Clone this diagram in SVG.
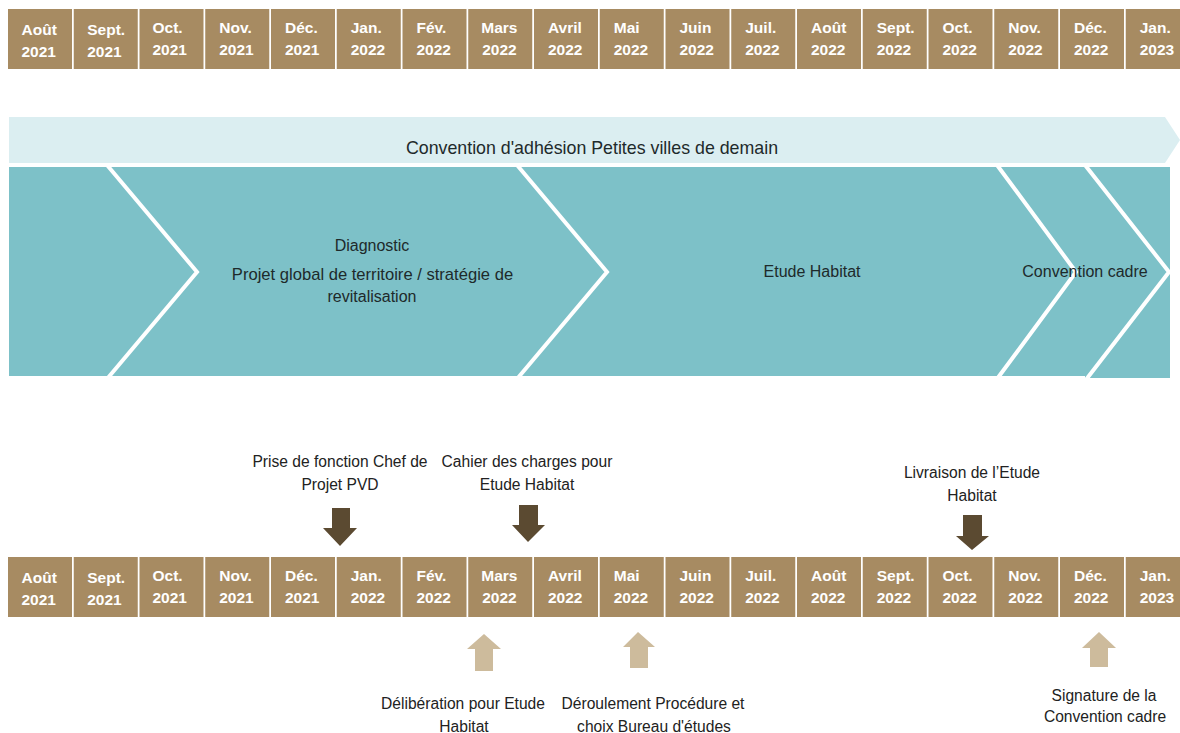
<svg xmlns="http://www.w3.org/2000/svg" width="1180" height="733" viewBox="0 0 1180 733">
<style>
.cell{fill:#A78B62}
.mt{font-family:"Liberation Sans",Arial,sans-serif;font-weight:bold;font-size:15.5px;fill:#ffffff}
.lbl{font-family:"Liberation Sans",Arial,sans-serif;font-size:15.6px;fill:#222222;text-anchor:middle}
.band{font-family:"Liberation Sans",Arial,sans-serif;font-size:16px;fill:#1e2a2b;text-anchor:middle}
.sep{fill:none;stroke:#ffffff;stroke-width:4}
.dark{fill:#5B4A31}
.light{fill:#CDBB9C}
</style>
<rect width="1180" height="733" fill="#ffffff"/>

<g id="top-timeline">
<g id="t0"><rect class="cell" x="8" y="9" width="64" height="60"/><text class="mt" x="21.5" y="35">Août</text><text class="mt" x="21.5" y="57">2021</text></g>
<g id="t1"><rect class="cell" x="73.75" y="9" width="64" height="60"/><text class="mt" x="87.25" y="35">Sept.</text><text class="mt" x="87.25" y="57">2021</text></g>
<g id="t2"><rect class="cell" x="139.5" y="9" width="64" height="60"/><text class="mt" x="152.5" y="32.5">Oct.</text><text class="mt" x="152.5" y="54.5">2021</text></g>
<g id="t3"><rect class="cell" x="205.25" y="9" width="64" height="60"/><text class="mt" x="219.25" y="32.5">Nov.</text><text class="mt" x="219.25" y="54.5">2021</text></g>
<g id="t4"><rect class="cell" x="271" y="9" width="64" height="60"/><text class="mt" x="285" y="32.5">Déc.</text><text class="mt" x="285" y="54.5">2021</text></g>
<g id="t5"><rect class="cell" x="336.75" y="9" width="64" height="60"/><text class="mt" x="350.75" y="32.5">Jan.</text><text class="mt" x="350.75" y="54.5">2022</text></g>
<g id="t6"><rect class="cell" x="402.5" y="9" width="64" height="60"/><text class="mt" x="416.5" y="32.5">Fév.</text><text class="mt" x="416.5" y="54.5">2022</text></g>
<g id="t7"><rect class="cell" x="468.25" y="9" width="64" height="60"/><text class="mt" x="481.25" y="32.5">Mars</text><text class="mt" x="482.25" y="54.5">2022</text></g>
<g id="t8"><rect class="cell" x="534" y="9" width="64" height="60"/><text class="mt" x="548" y="32.5">Avril</text><text class="mt" x="548" y="54.5">2022</text></g>
<g id="t9"><rect class="cell" x="599.75" y="9" width="64" height="60"/><text class="mt" x="613.75" y="32.5">Mai</text><text class="mt" x="613.75" y="54.5">2022</text></g>
<g id="t10"><rect class="cell" x="665.5" y="9" width="64" height="60"/><text class="mt" x="679.5" y="32.5">Juin</text><text class="mt" x="679.5" y="54.5">2022</text></g>
<g id="t11"><rect class="cell" x="731.25" y="9" width="64" height="60"/><text class="mt" x="745.25" y="32.5">Juil.</text><text class="mt" x="745.25" y="54.5">2022</text></g>
<g id="t12"><rect class="cell" x="797" y="9" width="64" height="60"/><text class="mt" x="811" y="32.5">Août</text><text class="mt" x="811" y="54.5">2022</text></g>
<g id="t13"><rect class="cell" x="862.75" y="9" width="64" height="60"/><text class="mt" x="876.75" y="32.5">Sept.</text><text class="mt" x="876.75" y="54.5">2022</text></g>
<g id="t14"><rect class="cell" x="928.5" y="9" width="64" height="60"/><text class="mt" x="942.5" y="32.5">Oct.</text><text class="mt" x="942.5" y="54.5">2022</text></g>
<g id="t15"><rect class="cell" x="994.25" y="9" width="64" height="60"/><text class="mt" x="1008.25" y="32.5">Nov.</text><text class="mt" x="1008.25" y="54.5">2022</text></g>
<g id="t16"><rect class="cell" x="1060" y="9" width="64" height="60"/><text class="mt" x="1074" y="32.5">Déc.</text><text class="mt" x="1074" y="54.5">2022</text></g>
<g id="t17"><rect class="cell" x="1125.75" y="9" width="64" height="60"/><text class="mt" x="1139.75" y="32.5">Jan.</text><text class="mt" x="1139.75" y="54.5">2023</text></g>
</g>

<g id="convention-band">
<polygon points="9,117 1165,117 1180,140 1165,163 9,163" fill="#DBEEF1"/>
<text class="band" x="592" y="154" style="font-size:17.8px">Convention d'adhésion Petites villes de demain</text>
</g>

<g id="phases">
<rect x="9" y="167" width="1161" height="209" fill="#7DC1C8"/>
<rect x="1085" y="167" width="85" height="211" fill="#7DC1C8"/>
<polyline class="sep" points="107,165 197,272 107,379"/>
<polyline class="sep" points="517,165 607,272 517,379"/>
<polyline class="sep" points="997,165 1076,272 997,379"/>
<polyline class="sep" points="1085,165 1169,272 1085,381"/>
<text class="band" x="372" y="251">Diagnostic</text>
<text class="band" x="372.5" y="280" style="font-size:16.6px">Projet global de territoire / stratégie de</text>
<text class="band" x="372" y="302">revitalisation</text>
<text class="band" x="812" y="277">Etude Habitat</text>
<text class="band" x="1085" y="277">Convention cadre</text>
</g>

<g id="bottom-timeline">
<g id="b0"><rect class="cell" x="8" y="557" width="64" height="60"/><text class="mt" x="21.5" y="583">Août</text><text class="mt" x="21.5" y="605">2021</text></g>
<g id="b1"><rect class="cell" x="73.75" y="557" width="64" height="60"/><text class="mt" x="87.25" y="583">Sept.</text><text class="mt" x="87.25" y="605">2021</text></g>
<g id="b2"><rect class="cell" x="139.5" y="557" width="64" height="60"/><text class="mt" x="152.5" y="580.5">Oct.</text><text class="mt" x="152.5" y="602.5">2021</text></g>
<g id="b3"><rect class="cell" x="205.25" y="557" width="64" height="60"/><text class="mt" x="219.25" y="580.5">Nov.</text><text class="mt" x="219.25" y="602.5">2021</text></g>
<g id="b4"><rect class="cell" x="271" y="557" width="64" height="60"/><text class="mt" x="285" y="580.5">Déc.</text><text class="mt" x="285" y="602.5">2021</text></g>
<g id="b5"><rect class="cell" x="336.75" y="557" width="64" height="60"/><text class="mt" x="350.75" y="580.5">Jan.</text><text class="mt" x="350.75" y="602.5">2022</text></g>
<g id="b6"><rect class="cell" x="402.5" y="557" width="64" height="60"/><text class="mt" x="416.5" y="580.5">Fév.</text><text class="mt" x="416.5" y="602.5">2022</text></g>
<g id="b7"><rect class="cell" x="468.25" y="557" width="64" height="60"/><text class="mt" x="481.25" y="580.5">Mars</text><text class="mt" x="482.25" y="602.5">2022</text></g>
<g id="b8"><rect class="cell" x="534" y="557" width="64" height="60"/><text class="mt" x="548" y="580.5">Avril</text><text class="mt" x="548" y="602.5">2022</text></g>
<g id="b9"><rect class="cell" x="599.75" y="557" width="64" height="60"/><text class="mt" x="613.75" y="580.5">Mai</text><text class="mt" x="613.75" y="602.5">2022</text></g>
<g id="b10"><rect class="cell" x="665.5" y="557" width="64" height="60"/><text class="mt" x="679.5" y="580.5">Juin</text><text class="mt" x="679.5" y="602.5">2022</text></g>
<g id="b11"><rect class="cell" x="731.25" y="557" width="64" height="60"/><text class="mt" x="745.25" y="580.5">Juil.</text><text class="mt" x="745.25" y="602.5">2022</text></g>
<g id="b12"><rect class="cell" x="797" y="557" width="64" height="60"/><text class="mt" x="811" y="580.5">Août</text><text class="mt" x="811" y="602.5">2022</text></g>
<g id="b13"><rect class="cell" x="862.75" y="557" width="64" height="60"/><text class="mt" x="876.75" y="580.5">Sept.</text><text class="mt" x="876.75" y="602.5">2022</text></g>
<g id="b14"><rect class="cell" x="928.5" y="557" width="64" height="60"/><text class="mt" x="942.5" y="580.5">Oct.</text><text class="mt" x="942.5" y="602.5">2022</text></g>
<g id="b15"><rect class="cell" x="994.25" y="557" width="64" height="60"/><text class="mt" x="1008.25" y="580.5">Nov.</text><text class="mt" x="1008.25" y="602.5">2022</text></g>
<g id="b16"><rect class="cell" x="1060" y="557" width="64" height="60"/><text class="mt" x="1074" y="580.5">Déc.</text><text class="mt" x="1074" y="602.5">2022</text></g>
<g id="b17"><rect class="cell" x="1125.75" y="557" width="64" height="60"/><text class="mt" x="1139.75" y="580.5">Jan.</text><text class="mt" x="1139.75" y="602.5">2023</text></g>
</g>

<g id="connectors">
<polygon class="dark" points="332,508 350,508 350,528 357,528 340,546 323,528 332,528"/>
<polygon class="dark" points="519,505 538,505 538,525 545,525 528,542 512,525 519,525"/>
<polygon class="dark" points="963,515 982,515 982,536 989,536 972,550 956,536 963,536"/>
<polygon class="light" points="475,671 493,671 493,649 501,649 484,634 467,649 475,649"/>
<polygon class="light" points="630,668 648,668 648,647 655,647 638,632 623,647 630,647"/>
<polygon class="light" points="1090,667 1108,667 1108,648 1116,648 1099,632 1082,648 1090,648"/>
</g>

<g id="label-prise"><text class="lbl" x="340" y="467">Prise de fonction Chef de</text><text class="lbl" x="340" y="490">Projet PVD</text></g>
<g id="label-cahier"><text class="lbl" x="527" y="467">Cahier des charges pour</text><text class="lbl" x="527" y="490">Etude Habitat</text></g>
<g id="label-livraison"><text class="lbl" x="972" y="478">Livraison de l’Etude</text><text class="lbl" x="972" y="501">Habitat</text></g>
<g id="label-deliberation"><text class="lbl" x="463" y="709">Délibération pour Etude</text><text class="lbl" x="464" y="732">Habitat</text></g>
<g id="label-deroulement"><text class="lbl" x="653" y="709">Déroulement Procédure et</text><text class="lbl" x="654" y="732">choix Bureau d'études</text></g>
<g id="label-signature"><text class="lbl" x="1104" y="701">Signature de la</text><text class="lbl" x="1105" y="722">Convention cadre</text></g>
</svg>
